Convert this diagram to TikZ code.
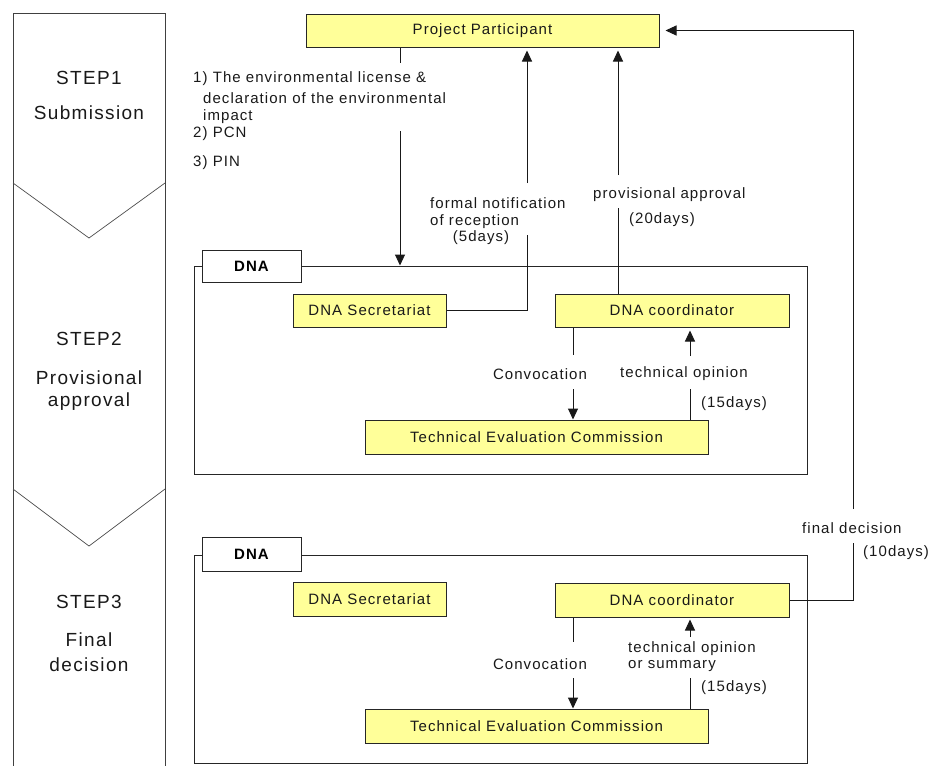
\documentclass[tikz,border=0pt]{standalone}
\usepackage{fontspec}
\setmainfont{Liberation Sans}[LetterSpace=7]
\usetikzlibrary{arrows.meta}
\definecolor{yel}{RGB}{255,255,153}
\definecolor{ink}{RGB}{25,25,25}
\tikzset{
  ybox/.style={draw=black!85, fill=yel, line width=1pt, inner sep=0pt, text=ink,
    font=\fontsize{15}{18}\selectfont},
  lblbox/.style={draw=black!85, fill=white, line width=1pt, inner sep=0pt,
    minimum width=99pt, font=\bfseries\fontsize{15}{18}\selectfont},
  outer/.style={draw=black!85, line width=1pt, inner sep=0pt},
  lbl/.style={inner sep=0pt, text=ink, font=\fontsize{15}{18}\selectfont},
  steplbl/.style={inner sep=0pt, text=ink, font=\fontsize{19}{22}\selectfont},
  conn/.style={line width=1pt, draw=black!90},
  arr/.style={conn, -{Triangle[length=11pt,width=10pt]}, shorten >=3pt},
}
\begin{document}
\begin{tikzpicture}[x=1pt,y=-1pt]
\useasboundingbox (0,0) rectangle (935,766);

% step column
\draw[line width=1pt, draw=black!75] (13,766) -- (13,13) -- (165,13) -- (165,766);
\draw[line width=0.7pt, draw=black!70] (13,183) -- (89,238) -- (165,183);
\draw[line width=0.7pt, draw=black!70] (13,489) -- (89,546) -- (165,489);
\node[steplbl] (s1a) at (89,78) {STEP1};
\node[steplbl] (s1b) at (89,113) {Submission};
\node[steplbl] (s2a) at (89,339) {STEP2};
\node[steplbl] (s2b) at (89,378) {Provisional};
\node[steplbl] (s2c) at (89,402) {approval};
\node[steplbl] (s3a) at (89,602) {STEP3};
\node[steplbl] (s3b) at (89,640) {Final};
\node[steplbl] (s3c) at (89,665) {decision};

% outer DNA boxes
\node[outer, minimum width=613pt, minimum height=208pt] (dna2) at (500.5,370) {};
\node[outer, minimum width=613pt, minimum height=208pt] (dna3) at (500.5,659) {};
\node[lblbox, minimum height=32pt] (l2) at (251.5,266) {DNA};
\node[lblbox, minimum height=34pt] (l3) at (251.5,554) {DNA};

% yellow boxes
\node[ybox, minimum width=353pt, minimum height=33pt] (pp) at (482.5,30.5) {Project Participant};
\node[ybox, minimum width=153pt, minimum height=33pt] (sec2) at (369.5,310.5) {DNA Secretariat};
\node[ybox, minimum width=234pt, minimum height=33pt] (co2) at (672,310.5) {DNA coordinator};
\node[ybox, minimum width=343pt, minimum height=34pt] (tec2) at (536.5,437) {Technical Evaluation Commission};
\node[ybox, minimum width=153pt, minimum height=34pt] (sec3) at (369.5,599) {DNA Secretariat};
\node[ybox, minimum width=234pt, minimum height=34pt] (co3) at (672,600) {DNA coordinator};
\node[ybox, minimum width=343pt, minimum height=34pt] (tec3) at (536.5,726) {Technical Evaluation Commission};

% submission texts
\node[lbl, anchor=west] (t1) at (193,79) {1) The environmental license \&};
\node[lbl, anchor=west] (t2) at (203,98) {declaration of the environmental};
\node[lbl, anchor=west] (t3) at (203,117) {impact};
\node[lbl, anchor=west] (t4) at (193,134) {2) PCN};
\node[lbl, anchor=west] (t5) at (193,163) {3) PIN};

% submission connector
\coordinate (a0) at (400,63);
\coordinate (a1) at (400,131);
\draw[conn] (a0 |- pp.south) -- (a0);
\draw[arr, shorten >=0pt] (a1) -- (a1 |- dna2.north);

% formal notification
\coordinate (f1) at (527,235);
\coordinate (f2) at (527,183);
\draw[conn] (sec2.east) -| (f1);
\draw[arr] (f2) -- (f2 |- pp.south);
\node[lbl, anchor=west] (fn1) at (430,203) {formal notification};
\node[lbl, anchor=west] (fn2) at (430,222) {of reception};
\node[lbl] (fn3) at (481,238) {(5days)};

% provisional approval
\coordinate (p1) at (618,208);
\coordinate (p2) at (618,175);
\draw[conn] (p1 |- co2.north) -- (p1);
\draw[arr] (p2) -- (p2 |- pp.south);
\node[lbl, anchor=west] (pa1) at (593,195) {provisional approval};
\node[lbl] (pa2) at (662,220) {(20days)};

% step 2 internal
\coordinate (c1) at (573,355);
\coordinate (c2) at (573,389);
\draw[conn] (c1 |- co2.south) -- (c1);
\draw[arr, shorten >=0pt] (c2) -- (c2 |- tec2.north);
\node[lbl] (cv2) at (540,374) {Convocation};
\coordinate (o1) at (690,389);
\coordinate (o2) at (690,356);
\draw[conn] (o1 |- tec2.north) -- (o1);
\draw[arr] (o2) -- (o2 |- co2.south);
\node[lbl, anchor=west] (op2) at (620,374) {technical opinion};
\node[lbl, anchor=west] (d2) at (701,404) {(15days)};

% step 3 internal
\coordinate (c3) at (573,642);
\coordinate (c4) at (573,678);
\draw[conn] (c3 |- co3.south) -- (c3);
\draw[arr, shorten >=0pt] (c4) -- (c4 |- tec3.north);
\node[lbl] (cv3) at (540,664) {Convocation};
\coordinate (o3) at (690,678);
\coordinate (o4) at (690,637);
\draw[conn] (o3 |- tec3.north) -- (o3);
\draw[arr, shorten >=2pt] (o4) -- (o4 |- co3.south);
\node[lbl, anchor=west] (op3a) at (628,649) {technical opinion};
\node[lbl, anchor=west] (op3b) at (628,666) {or summary};
\node[lbl, anchor=west] (d3) at (701,688) {(15days)};

% final decision
\coordinate (g1) at (853,543);
\coordinate (g2) at (853,509);
\draw[conn] (co3.east) -| (g1);
\draw[arr, shorten >=6pt] (g2) |- (pp.east);
\node[lbl, anchor=west] (fd1) at (802,528) {final decision};
\node[lbl, anchor=west] (fd2) at (863,553) {(10days)};
\end{tikzpicture}
\end{document}
